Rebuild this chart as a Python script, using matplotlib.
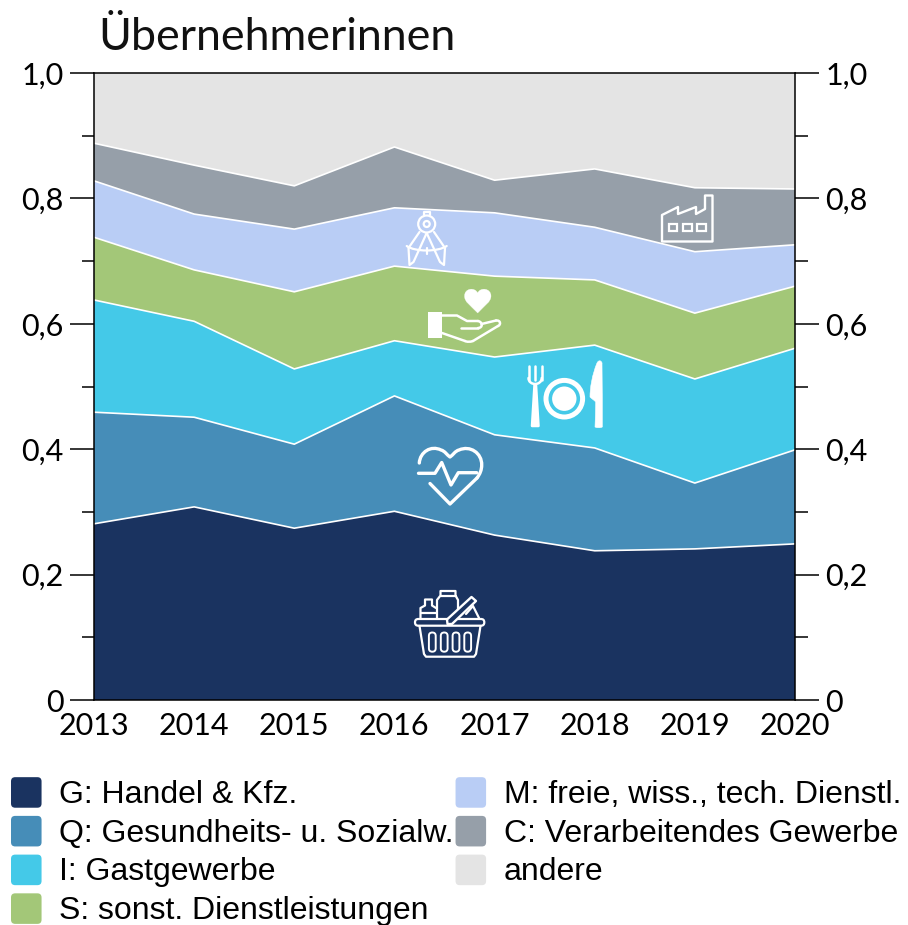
import numpy as np
import matplotlib
matplotlib.use("Agg")
import matplotlib.pyplot as plt
from matplotlib.patches import FancyBboxPatch, Rectangle, Circle, PathPatch, Patch
from matplotlib.path import Path
from matplotlib.legend_handler import HandlerPatch

years = [2013, 2014, 2015, 2016, 2017, 2018, 2019, 2020]
labels = ["G: Handel & Kfz.", "Q: Gesundheits- u. Sozialw.", "I: Gastgewerbe",
          "S: sonst. Dienstleistungen", "M: freie, wiss., tech. Dienstl.",
          "C: Verarbeitendes Gewerbe", "andere"]
colors = ["#1a3360", "#468db8", "#44c9e8", "#a3c778", "#b9cdf5", "#969fa9", "#e4e4e4"]
handel = [.281, .308, .274, .301, .263, .238, .241, .249]
gesund = [.178, .143, .134, .184, .160, .164, .105, .150]
gast = [.179, .153, .120, .088, .124, .164, .166, .162]
sonst = [.100, .082, .123, .119, .129, .104, .105, .099]
freie = [.090, .089, .100, .093, .101, .084, .098, .066]
verarb = [.060, .078, .069, .097, .052, .093, .102, .089]
andere = [.112, .147, .180, .118, .171, .153, .183, .185]
series = [handel, gesund, gast, sonst, freie, verarb, andere]
yticks = [0, .2, .4, .6, .8, 1.0]
yticklabels = ["0", "0,2", "0,4", "0,6", "0,8", "1,0"]
title = "Übernehmerinnen"

W, H = 908, 925
fig = plt.figure(figsize=(W / 100, H / 100), dpi=100)
ax = fig.add_axes([94 / W, 1 - 700 / H, 701 / W, 627 / H])
ax.stackplot(years, series, colors=colors, linewidth=0)
for top in np.cumsum(series, axis=0)[:-1]:
    ax.plot(years, top, color="white", lw=1.2, zorder=3)
ax.set_xlim(2013, 2020)
ax.set_ylim(0, 1)
ax.set_xticks(years)
ax.set_xticklabels(years, fontname="Lato", fontsize=22)
ax.tick_params(axis="x", length=0, pad=8.5)
ax.set_yticks(yticks)
ax.set_yticklabels(yticklabels, fontname="Lato", fontsize=22)
ax.set_yticks([.1, .3, .5, .7, .9], minor=True)
ax.tick_params(axis="y", which="major", length=17, width=1.1, pad=5, left=True, right=True, labelright=True)
ax.tick_params(axis="y", which="minor", length=9, width=1.1, left=True, right=True)
for s in ax.spines.values():
    s.set_linewidth(1.1)
    s.set_zorder(5)
fig.text(98.5 / W, 1 - 50 / H, title, fontname="Lato", fontsize=32.2, color="#111111", va="baseline")


class RoundHandler(HandlerPatch):
    def create_artists(self, legend, orig, xd, yd, w, h, fs, trans):
        s = 22.0
        r = 3.0
        p = FancyBboxPatch((r, r - 3.4), s - 2 * r, s - 2 * r, boxstyle=f"round,pad={r},rounding_size={r}",
                           fc=orig.get_facecolor(), ec="none", transform=trans)
        return [p]


handles = [Patch(color=c, label=l) for c, l in zip(colors, labels)]
fs = 23
leg = fig.legend(handles=handles, ncol=2, loc="upper left", bbox_to_anchor=(11 / W, 1 - 780 / H),
                 bbox_transform=fig.transFigure, frameon=False, borderpad=0, borderaxespad=0,
                 prop={"family": "Liberation Sans", "size": fs}, handlelength=22 / fs,
                 handleheight=0.7, handletextpad=0.56, labelspacing=0.273, columnspacing=0.05,
                 handler_map={Patch: RoundHandler()})

# decorative icons, drawn in pixel coordinates on a transparent overlay
ov = fig.add_axes([0, 0, 1, 1], zorder=10)
ov.set_xlim(0, W)
ov.set_ylim(H, 0)
ov.axis("off")
ov.patch.set_alpha(0)
LW = 1.6


def line(pts, lw=LW, closed=False, fill=None):
    xy = np.array(pts, float)
    codes = [Path.MOVETO] + [Path.LINETO] * (len(xy) - 1)
    if closed:
        xy = np.vstack([xy, xy[0]])
        codes.append(Path.CLOSEPOLY)
    ov.add_patch(PathPatch(Path(xy, codes), fc=fill if fill else "none",
                           ec="white", lw=lw, capstyle="round", joinstyle="round"))


def curve(verts, lw=LW, fill=None):
    """verts: start point, then triples of cubic bezier points"""
    codes = [Path.MOVETO] + [Path.CURVE4] * (len(verts) - 1)
    ov.add_patch(PathPatch(Path(verts, codes), fc=fill if fill else "none",
                           ec="white", lw=lw, capstyle="round", joinstyle="round"))


def rrect(x0, y0, x1, y1, r, lw=LW, fill=None):
    ov.add_patch(FancyBboxPatch((x0 + r, y0 + r), x1 - x0 - 2 * r, y1 - y0 - 2 * r,
                                boxstyle=f"round,pad={r},rounding_size={r}",
                                fc=fill if fill else "none", ec="white", lw=lw))


# factory
line([(662, 241.5), (662, 215), (678, 207), (678, 214), (696, 207), (696, 214), (705, 209),
      (705, 195.5), (712.5, 195.5), (712.5, 241.5)], closed=True, lw=1.7)
for x0 in (668.5, 683, 697):
    ov.add_patch(Rectangle((x0, 223.5), 8.5, 7.5, fc="none", ec="white", lw=1.6))

# compass
ov.add_patch(Circle((426.7, 224), 8.5, fc="none", ec="white", lw=LW))
ov.add_patch(Circle((426.7, 224), 3, fc="none", ec="white", lw=LW))
line([(423.5, 215), (423.5, 211.5), (430, 211.5), (430, 215)])
line([(419.5, 232), (408.5, 248), (409.5, 265), (413.5, 262), (426.7, 233)])
line([(434, 232), (445, 248), (444, 265), (440, 262), (426.7, 233)])
curve([(406.7, 246), (415, 252), (438, 252), (446.7, 246)])
line([(426.7, 248), (426.7, 254)])

# hand and heart
HL = 1.8
ov.add_patch(Rectangle((428, 312), 14, 25.5, fc="white", ec="none"))
line([(442, 315.5), (457, 315.5), (467, 321), (478, 321)], lw=HL)
curve([(478, 321), (483, 322), (483, 328), (478, 328)], lw=HL)
line([(478, 328), (461, 328)], lw=HL)
line([(481.5, 324), (496, 320.5)], lw=HL)
curve([(496, 320.5), (501, 320), (501, 325), (498, 326)], lw=HL)
line([(498, 326), (473, 341)], lw=HL)
curve([(473, 341), (470, 342), (467, 342), (465, 341)], lw=HL)
line([(465, 341), (442, 333)], lw=HL)
curve([(477.7, 313), (470, 305), (464.5, 302), (464.5, 296), (464.5, 288), (475, 287), (477.7, 293),
       (480, 287), (491, 288), (491, 296), (491, 302), (485, 305), (477.7, 313)], lw=0.2, fill="white")

# cutlery and plate
for x in (528.5, 535, 541.7):
    line([(x, 366), (x, 380)], lw=1.8)
curve([(528.5, 378), (528.5, 386), (541.7, 386), (541.7, 378)], lw=1.8)
line([(534.5, 385), (536, 385), (538.5, 426), (532, 426)], closed=True, lw=1.8, fill="white")
ov.add_patch(Circle((564.3, 398.7), 18.3, fc="none", ec="white", lw=3.6))
ov.add_patch(Circle((564.3, 398.7), 12.2, fc="white", ec="none"))
curve([(602, 363), (601, 360), (598.5, 360), (597, 363), (592, 375), (590, 388), (590, 397),
       (592, 399), (594, 400), (595.7, 402), (595.7, 410), (595.2, 420), (595, 427),
       (597.5, 428), (600, 428), (602.3, 427), (602.3, 410), (602.3, 385), (602, 363)], lw=0.4, fill="white")

# heart with pulse
PL = 2.4
curve([(419.3, 463), (420, 452), (431, 445), (441, 450), (445, 451), (447, 455), (450, 457),
       (453, 455), (455, 451), (459, 450), (470, 445), (482, 453), (481.7, 465),
       (481.7, 470), (480, 474), (477, 478)], lw=PL)
line([(477, 478), (450, 504), (430, 483.5)], lw=PL)
line([(418.5, 473.3), (435, 473.3), (441.7, 462.5), (451, 485), (458.3, 472.7), (476.7, 472.7)], lw=PL)

# basket
rrect(415, 619, 484.3, 625.7, 3.3)
line([(419.5, 626), (424, 654), (426, 656.7), (474, 656.7), (476, 654), (480.5, 626)])
for x in (432.3, 444.2, 456, 467.7):
    rrect(x - 3.4, 632.5, x + 3.4, 651.7, 3.4, lw=1.4)
line([(437, 618), (437, 600), (440.5, 595.5), (440.5, 591), (455.5, 591), (455.5, 595.5), (458, 600), (458, 612)])
line([(440.5, 595.5), (455.5, 595.5)])
line([(420.5, 618), (420.5, 608), (425, 605.5), (425, 599.5), (432, 599.5), (432, 605.5), (436, 608)])
line([(420.5, 613), (436, 613)])
line([(447, 619.5), (471.5, 597), (476, 601), (452, 624), (447.5, 624)], closed=True, lw=1.7, fill="#1a3360")
line([(466, 614), (473, 606), (479, 618)])

fig.savefig("out.png", dpi=100)
